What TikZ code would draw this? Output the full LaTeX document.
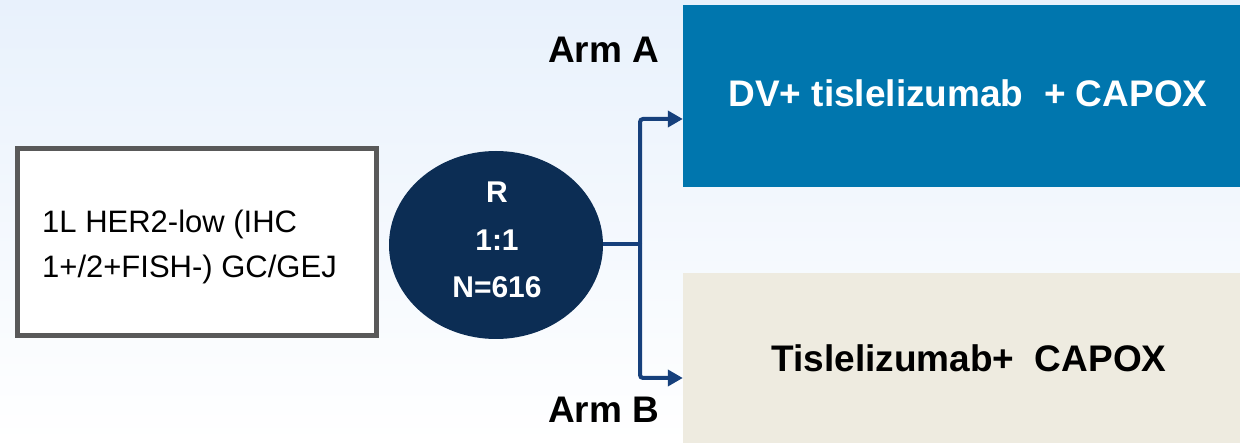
\documentclass[tikz,border=0pt]{standalone}
\usepackage{fontspec}
\setmainfont{Liberation Sans}
\usetikzlibrary{arrows.meta,shapes.geometric}
\definecolor{bgtop}{RGB}{232,241,252}
\definecolor{bgmid}{RGB}{243,248,254}
\definecolor{armablue}{RGB}{0,118,174}
\definecolor{armbgray}{RGB}{238,235,224}
\definecolor{randnavy}{RGB}{12,45,84}
\definecolor{connblue}{RGB}{22,64,124}
\definecolor{boxgray}{RGB}{89,89,89}
\tikzset{
  armbox/.style={rectangle, draw=none, minimum width=557pt, inner sep=0pt},
  conn/.style={draw=connblue, line width=4pt, rounded corners=3pt},
  tip/.style={-{Triangle[length=15pt,width=16pt]}},
  armlabel/.style={anchor=base west, inner sep=0pt, font=\fontsize{37}{40}\selectfont\bfseries},
  armtext/.style={anchor=base, inner sep=0pt, font=\fontsize{37}{40}\selectfont\bfseries},
  randtext/.style={anchor=base, inner sep=0pt, text=white, font=\fontsize{30}{34}\selectfont\bfseries},
  poptext/.style={anchor=base west, inner sep=0pt, font=\fontsize{31}{36}\selectfont}
}
\begin{document}
\begin{tikzpicture}[x=1pt,y=-1pt]
\useasboundingbox (0,0) rectangle (1240,443);
\shade[top color=bgtop, middle color=bgmid, bottom color=white] (0,0) rectangle (1240,443);
% population box
\node[rectangle, draw=boxgray, line width=5pt, fill=white, minimum width=359pt, minimum height=187pt, inner sep=0pt] (pop) at (197,242) {};
\node[poptext] (pop1) at (42,233) {1L HER2-low (IHC};
\node[poptext] (pop2) at (42,278) {1+/2+FISH-) GC/GEJ};
% randomisation
\node[ellipse, fill=randnavy, draw=none, minimum width=214pt, minimum height=188pt, inner sep=0pt] (rand) at (496,245) {};
\node[randtext] (r1) at (497,203) {R};
\node[randtext] (r2) at (497,251) {1:1};
\node[randtext] (r3) at (497,298) {N=616};
% arms
\node[armbox, fill=armablue, minimum height=182pt] (armA) at (961.5,96) {};
\node[armtext, text=white] (armAtext) at (968,107) {DV+ tislelizumab\ \ + CAPOX};
\node[armbox, fill=armbgray, minimum height=170pt] (armB) at (961.5,358) {};
\node[armtext, text=black] (armBtext) at (969,372) {Tislelizumab+\ \ CAPOX};
\node[armlabel] (labA) at (548,63) {Arm A};
\node[armlabel] (labB) at (548,423) {Arm B};
% connectors
\coordinate (split) at (640,244);
\coordinate (inA) at ([yshift=-23pt]armA.west);
\coordinate (inB) at ([yshift=-20pt]armB.west);
\draw[conn] (rand.east |- split) -- (split);
\draw[conn, tip] (split) |- (inA);
\draw[conn, tip] (split) |- (inB);
\end{tikzpicture}
\end{document}
